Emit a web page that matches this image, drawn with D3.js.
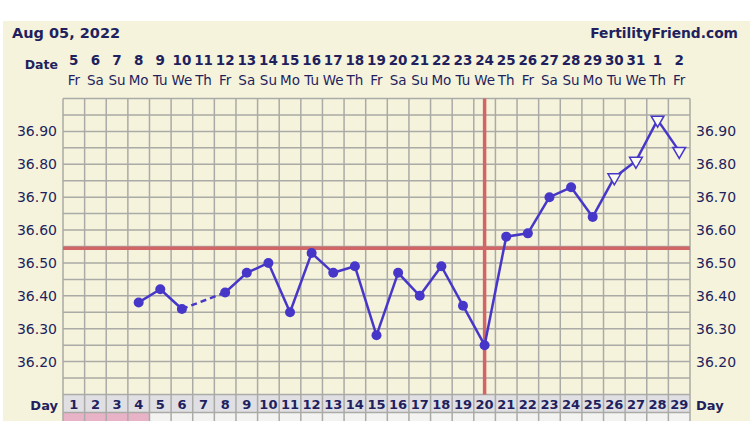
<!DOCTYPE html>
<html>
<head>
<meta charset="utf-8">
<script src="https://cdn.jsdelivr.net/npm/d3@7"></script>
<style>
  body { margin: 0; background: #fff; }
  svg { display: block; font-family: "DejaVu Sans", Verdana, sans-serif; }
  .tick line { display: none; }
  .domain { display: none; }
</style>
</head>
<body>
<svg width="750" height="421"></svg>
<script>
// cycle days 1..29
let cycleDays = d3.range(1, 30);
let dateNums = ["5","6","7","8","9","10","11","12","13","14","15","16","17","18","19","20",
                "21","22","23","24","25","26","27","28","29","30","31","1","2"];
let weekdays = ["Fr","Sa","Su","Mo","Tu","We","Th","Fr","Sa","Su","Mo","Tu","We","Th","Fr","Sa",
                "Su","Mo","Tu","We","Th","Fr","Sa","Su","Mo","Tu","We","Th","Fr"];
// temperatures (null = not recorded)
let temps = [null, null, null, 36.38, 36.42, 36.36, null, 36.41, 36.47, 36.50,
             36.35, 36.53, 36.47, 36.49, 36.28, 36.47, 36.40, 36.49, 36.37, 36.25,
             36.58, 36.59, 36.70, 36.73, 36.64, 36.76, 36.81, 36.935, 36.84];
// marker type per day: dot or open triangle
let markers = ["","","","dot","dot","dot","","dot","dot","dot","dot","dot","dot","dot","dot",
               "dot","dot","dot","dot","dot","dot","dot","dot","dot","dot","tri","tri","tri","tri"];
let periodDays = [1, 2, 3, 4];
let yTicks = [36.2, 36.3, 36.4, 36.5, 36.6, 36.7, 36.8, 36.9];
let coverline = 36.545;
let ovulationDay = 20;

let navy = "#221f5e", blue = "#4637c9", red = "#d26565", gridC = "#aaaaa6";

let svg = d3.select("svg");

// background panel
svg.append("rect").attr("x", 3).attr("y", 21).attr("width", 747).attr("height", 400)
   .attr("fill", "#f6f3dc");

let x = d3.scaleBand().domain(cycleDays).range([63, 690]);
let bw = x.bandwidth();
let cx = d => x(d) + bw / 2;
let y = d3.scaleLinear().domain([36.1, 37.0]).range([394.5, 98.5]);

// day row + strip below
svg.append("rect").attr("x", 63).attr("y", y(36.1)).attr("width", 627).attr("height", 18)
   .attr("fill", "#dfdfe4");
svg.selectAll(".strip").data(cycleDays).enter().append("rect")
   .attr("x", d => x(d)).attr("y", y(36.1) + 18).attr("width", bw).attr("height", 421 - y(36.1) - 18)
   .attr("fill", d => periodDays.includes(d) ? "#e8b3c6" : "#f3f3f1");

// grid
let hLines = d3.range(36.1, 37.001, 0.05);
svg.append("g").selectAll("line").data(hLines).enter().append("line")
   .attr("x1", 63).attr("x2", 690).attr("y1", d => y(d)).attr("y2", d => y(d))
   .attr("stroke", gridC).attr("stroke-width", 1.5);
svg.append("line").attr("x1", 63).attr("x2", 690)
   .attr("y1", y(36.1) + 18).attr("y2", y(36.1) + 18).attr("stroke", gridC).attr("stroke-width", 1.5);
let vLines = cycleDays.map(d => x(d)).concat([690]);
svg.append("g").selectAll("line").data(vLines).enter().append("line")
   .attr("x1", d => d).attr("x2", d => d).attr("y1", y(37.0)).attr("y2", 421)
   .attr("stroke", gridC).attr("stroke-width", 1.5);

// coverline and ovulation line
svg.append("line").attr("x1", 63).attr("x2", 690).attr("y1", y(coverline)).attr("y2", y(coverline))
   .attr("stroke", red).attr("stroke-width", 3.5);
svg.append("line").attr("x1", cx(ovulationDay)).attr("x2", cx(ovulationDay))
   .attr("y1", y(37.0)).attr("y2", y(36.1))
   .attr("stroke", red).attr("stroke-width", 3.5);

// y axes
let yAxisL = d3.axisLeft(y).tickValues(yTicks).tickFormat(d3.format(".2f")).tickSize(0).tickPadding(6);
let yAxisR = d3.axisRight(y).tickValues(yTicks).tickFormat(d3.format(".2f")).tickSize(0).tickPadding(6);
svg.append("g").attr("transform", "translate(63,0)").call(yAxisL)
   .selectAll("text").attr("font-size", 14).attr("fill", navy).attr("font-family", "DejaVu Sans");
svg.append("g").attr("transform", "translate(690,0)").call(yAxisR)
   .selectAll("text").attr("font-size", 14).attr("fill", navy).attr("font-family", "DejaVu Sans");

// header
svg.append("text").attr("x", 12).attr("y", 38).attr("font-size", 14.5).attr("font-weight", "bold")
   .attr("fill", navy).text("Aug 05, 2022");
svg.append("text").attr("x", 738).attr("y", 38).attr("text-anchor", "end")
   .attr("font-size", 13.8).attr("font-weight", "bold").attr("fill", navy)
   .text("FertilityFriend.com");
svg.append("text").attr("x", 58).attr("y", 69).attr("text-anchor", "end").attr("font-size", 12.5)
   .attr("font-weight", "bold").attr("fill", navy).text("Date");
svg.selectAll(".dnum").data(cycleDays).enter().append("text")
   .attr("x", d => cx(d)).attr("y", 65).attr("text-anchor", "middle")
   .attr("font-size", 13.5).attr("font-weight", "bold").attr("fill", navy)
   .text((d, i) => dateNums[i]);
svg.selectAll(".wday").data(cycleDays).enter().append("text")
   .attr("x", d => cx(d)).attr("y", 85).attr("text-anchor", "middle")
   .attr("font-size", 13.5).attr("fill", navy)
   .text((d, i) => weekdays[i]);

// day row labels
svg.selectAll(".dayn").data(cycleDays).enter().append("text")
   .attr("x", d => cx(d)).attr("y", y(36.1) + 14.5).attr("text-anchor", "middle")
   .attr("font-size", 13).attr("font-weight", "bold").attr("fill", navy).text(d => d);
svg.append("text").attr("x", 58).attr("y", y(36.1) + 15).attr("text-anchor", "end")
   .attr("font-size", 13).attr("font-weight", "bold").attr("fill", navy).text("Day");
svg.append("text").attr("x", 696).attr("y", y(36.1) + 15)
   .attr("font-size", 13).attr("font-weight", "bold").attr("fill", navy).text("Day");

// temperature line
let pts = cycleDays.map((d, i) => ({day: d, t: temps[i], m: markers[i]})).filter(p => p.t != null);
let segs = d3.pairs(pts);
svg.append("g").selectAll("line").data(segs).enter().append("line")
   .attr("x1", s => cx(s[0].day)).attr("y1", s => y(s[0].t))
   .attr("x2", s => cx(s[1].day)).attr("y2", s => y(s[1].t))
   .attr("stroke", blue).attr("stroke-width", 2.5)
   .attr("stroke-dasharray", s => s[1].day - s[0].day > 1 ? "6,4" : null);

svg.append("g").selectAll("circle").data(pts.filter(p => p.m === "dot")).enter().append("circle")
   .attr("cx", p => cx(p.day)).attr("cy", p => y(p.t)).attr("r", 5).attr("fill", blue);

let tri = d3.symbol().type(d3.symbolTriangle).size(70);
svg.append("g").selectAll("path").data(pts.filter(p => p.m === "tri")).enter().append("path")
   .attr("d", tri)
   .attr("transform", p => `translate(${cx(p.day)},${y(p.t)}) rotate(180)`)
   .attr("fill", "#fbfaf0").attr("stroke", blue).attr("stroke-width", 1.5);
</script>
</body>
</html>
